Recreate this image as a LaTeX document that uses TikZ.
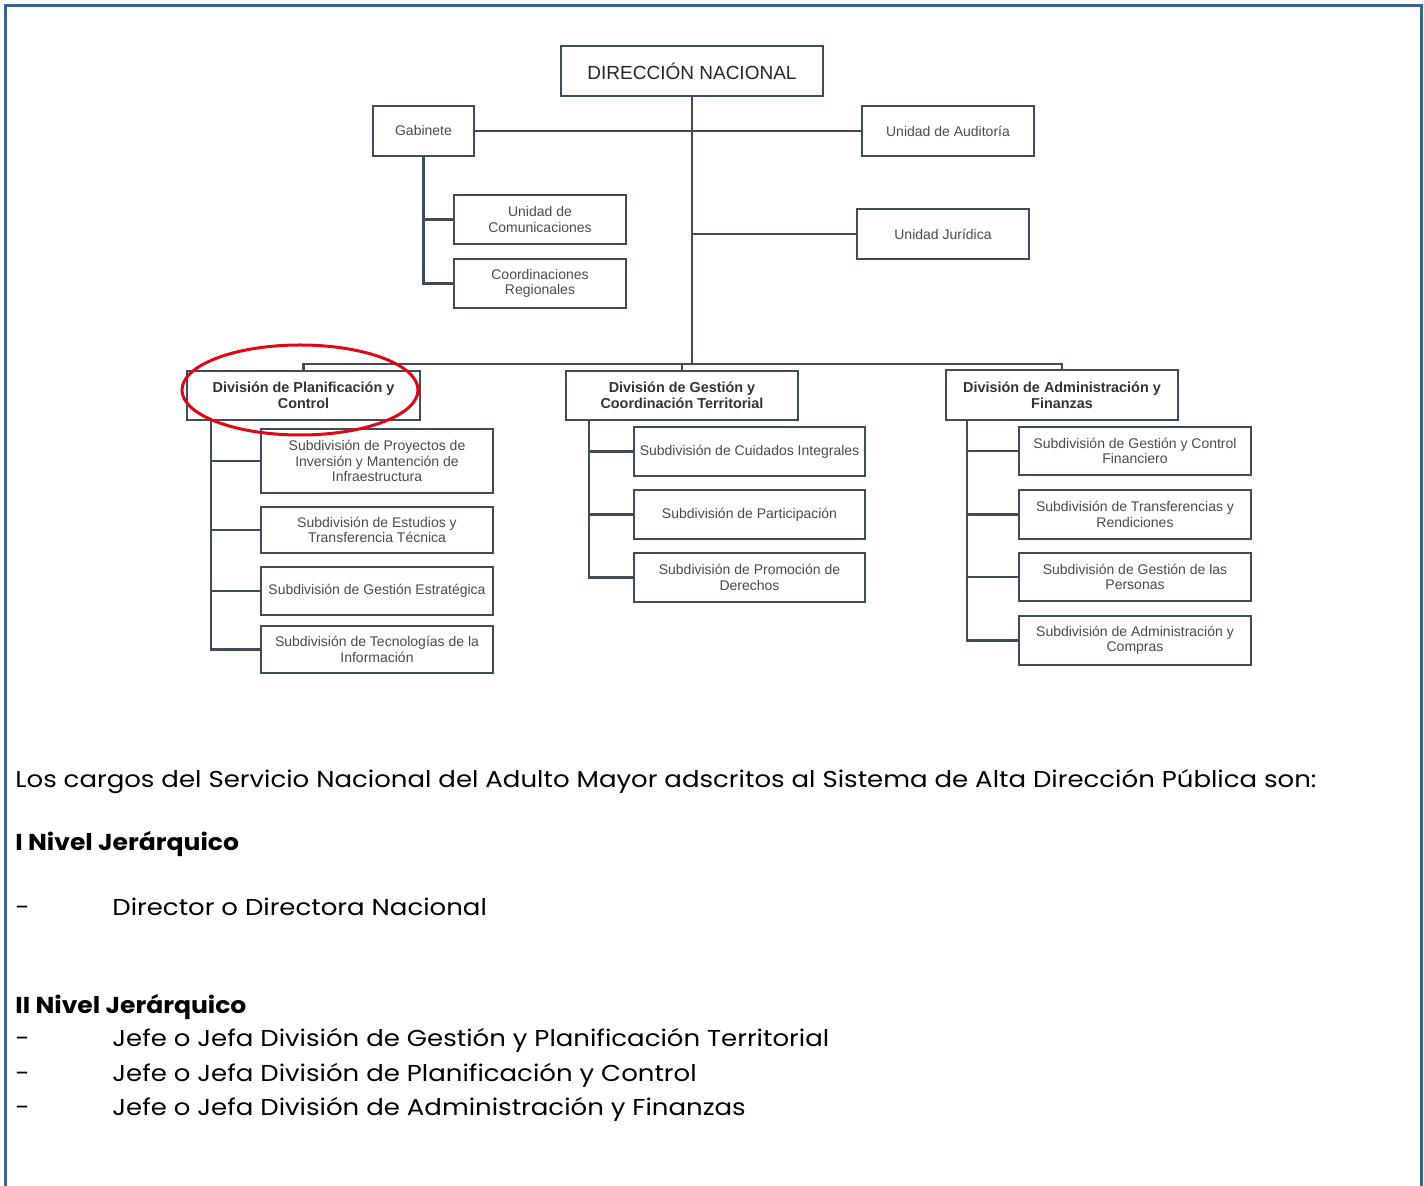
\documentclass[tikz,border=0pt]{standalone}
\usepackage{fontspec}
\setmainfont{Liberation Sans}
\newfontfamily\gothic[FakeStretch=1.13]{Poppins}
\newfontfamily\gothicb[FakeStretch=1.09]{Poppins}
\usetikzlibrary{shapes.geometric}
\definecolor{frame}{HTML}{3A6396}
\definecolor{boxline}{HTML}{404B5C}
\definecolor{boxtext}{HTML}{4A4A4A}
\definecolor{hl}{HTML}{E30613}
\begin{document}
\begin{tikzpicture}[x=0.5pt,y=-0.5pt,
 box/.style={draw=boxline, line width=1.1pt, rectangle, inner sep=1pt, align=center, text=boxtext, font=\fontsize{7}{7.6}\selectfont},
 divbox/.style={box, text=black!80, font=\bfseries\fontsize{7.2}{8}\selectfont},
 conn/.style={draw=boxline, line width=1.1pt},
 bodytext/.style={anchor=base west, inner sep=0pt, font=\gothic\fontsize{11.5}{14}\selectfont},
 bodybold/.style={bodytext, font=\gothicb\bfseries\fontsize{11.5}{14}\selectfont}
]
\useasboundingbox (0,0) rectangle (1424,1186);
\draw[frame, line width=1.5pt] (5.5,1186) -- (5.5,5.5) -- (1421.5,5.5) -- (1421.5,1186);

% top level
\node[box, minimum width=131pt, minimum height=25pt, font=\fontsize{9.5}{11}\selectfont, text=black!85] (dn) at (692,71) {DIRECCIÓN NACIONAL};
\node[box, minimum width=50.5pt, minimum height=25pt] (gab) at (423.5,131) {Gabinete};
\node[box, minimum width=86pt, minimum height=25pt] (aud) at (948,131) {Unidad de Auditoría};
\node[box, minimum width=86pt, minimum height=25pt] (jur) at (943,234) {Unidad Jurídica};
\node[box, minimum width=86pt, minimum height=24.5pt] (com) at (540,219.5) {Unidad de\\Comunicaciones};
\node[box, minimum width=86pt, minimum height=24.5pt] (coo) at (540,283.5) {Coordinaciones\\Regionales};

% divisions
\node[divbox, minimum width=116.5pt, minimum height=24.5pt] (d1) at (303.5,395.5) {División de Planificación y\\Control};
\node[divbox, minimum width=116pt, minimum height=24.5pt] (d2) at (682,395.5) {División de Gestión y\\Coordinación Territorial};
\node[divbox, minimum width=116pt, minimum height=25pt] (d3) at (1062,395) {División de Administración y\\Finanzas};

% subdivisions column 1
\node[box, minimum width=116pt, minimum height=32pt] (s1a) at (377,461) {Subdivisión de Proyectos de\\Inversión y Mantención de\\Infraestructura};
\node[box, minimum width=116pt, minimum height=23pt] (s1b) at (377,530) {Subdivisión de Estudios y\\Transferencia Técnica};
\node[box, minimum width=116pt, minimum height=24pt] (s1c) at (377,591) {Subdivisión de Gestión Estratégica};
\node[box, minimum width=116pt, minimum height=23.5pt] (s1d) at (377,649.5) {Subdivisión de Tecnologías de la\\Información};

% column 2
\node[box, minimum width=115.5pt, minimum height=24.5pt] (s2a) at (749.5,451.5) {Subdivisión de Cuidados Integrales};
\node[box, minimum width=115.5pt, minimum height=24.5pt] (s2b) at (749.5,514.5) {Subdivisión de Participación};
\node[box, minimum width=115.5pt, minimum height=24.5pt] (s2c) at (749.5,577.5) {Subdivisión de Promoción de\\Derechos};

% column 3
\node[box, minimum width=116pt, minimum height=24pt] (s3a) at (1135,451) {Subdivisión de Gestión y Control\\Financiero};
\node[box, minimum width=116pt, minimum height=24.5pt] (s3b) at (1135,514.5) {Subdivisión de Transferencias y\\Rendiciones};
\node[box, minimum width=116pt, minimum height=24pt] (s3c) at (1135,577) {Subdivisión de Gestión de las\\Personas};
\node[box, minimum width=116pt, minimum height=24.5pt] (s3d) at (1135,640.5) {Subdivisión de Administración y\\Compras};

% connectors
\coordinate (bus) at (692,364);
\draw[conn] (dn.south) -- (bus);
\draw[conn] (gab.east) -- (gab.east -| aud.west);
\draw[conn] (dn.south |- jur.west) -- (jur.west);
\draw[conn] (gab.south) |- (coo.west);
\draw[conn] (gab.south |- com.west) -- (com.west);
\draw[conn] (d1.north) |- (bus);
\draw[conn] (d3.north) |- (bus);
\draw[conn] (d2.north) -- (d2.north |- bus);

\coordinate (t1) at ([xshift=12.5pt]d1.south west);
\draw[conn] (t1) |- (s1d.west);
\draw[conn] (t1 |- s1a.west) -- (s1a.west);
\draw[conn] (t1 |- s1b.west) -- (s1b.west);
\draw[conn] (t1 |- s1c.west) -- (s1c.west);

\coordinate (t2) at ([xshift=12pt]d2.south west);
\draw[conn] (t2) |- (s2c.west);
\draw[conn] (t2 |- s2a.west) -- (s2a.west);
\draw[conn] (t2 |- s2b.west) -- (s2b.west);

\coordinate (t3) at ([xshift=11pt]d3.south west);
\draw[conn] (t3) |- (s3d.west);
\draw[conn] (t3 |- s3a.west) -- (s3a.west);
\draw[conn] (t3 |- s3b.west) -- (s3b.west);
\draw[conn] (t3 |- s3c.west) -- (s3c.west);

% highlight
\node[draw=hl, line width=1.5pt, ellipse, minimum width=118pt, minimum height=45pt, inner sep=0pt] (hlring) at (300,390) {};

% body text
\node[bodytext] (p1) at (15,787) {Los cargos del Servicio Nacional del Adulto Mayor adscritos al Sistema de Alta Dirección Pública son:};
\node[bodybold] (h1) at (15,850) {I Nivel Jerárquico};
\node[bodytext] (b1d) at (15,915) {-};
\node[bodytext] (b1) at (112,915) {Director o Directora Nacional};
\node[bodybold] (h2) at (15,1013) {II Nivel Jerárquico};
\node[bodytext] (b2d) at (15,1046) {-};
\node[bodytext] (b2) at (112,1046) {Jefe o Jefa División de Gestión y Planificación Territorial};
\node[bodytext] (b3d) at (15,1081) {-};
\node[bodytext] (b3) at (112,1081) {Jefe o Jefa División de Planificación y Control};
\node[bodytext] (b4d) at (15,1115) {-};
\node[bodytext] (b4) at (112,1115) {Jefe o Jefa División de Administración y Finanzas};
\end{tikzpicture}
\end{document}
